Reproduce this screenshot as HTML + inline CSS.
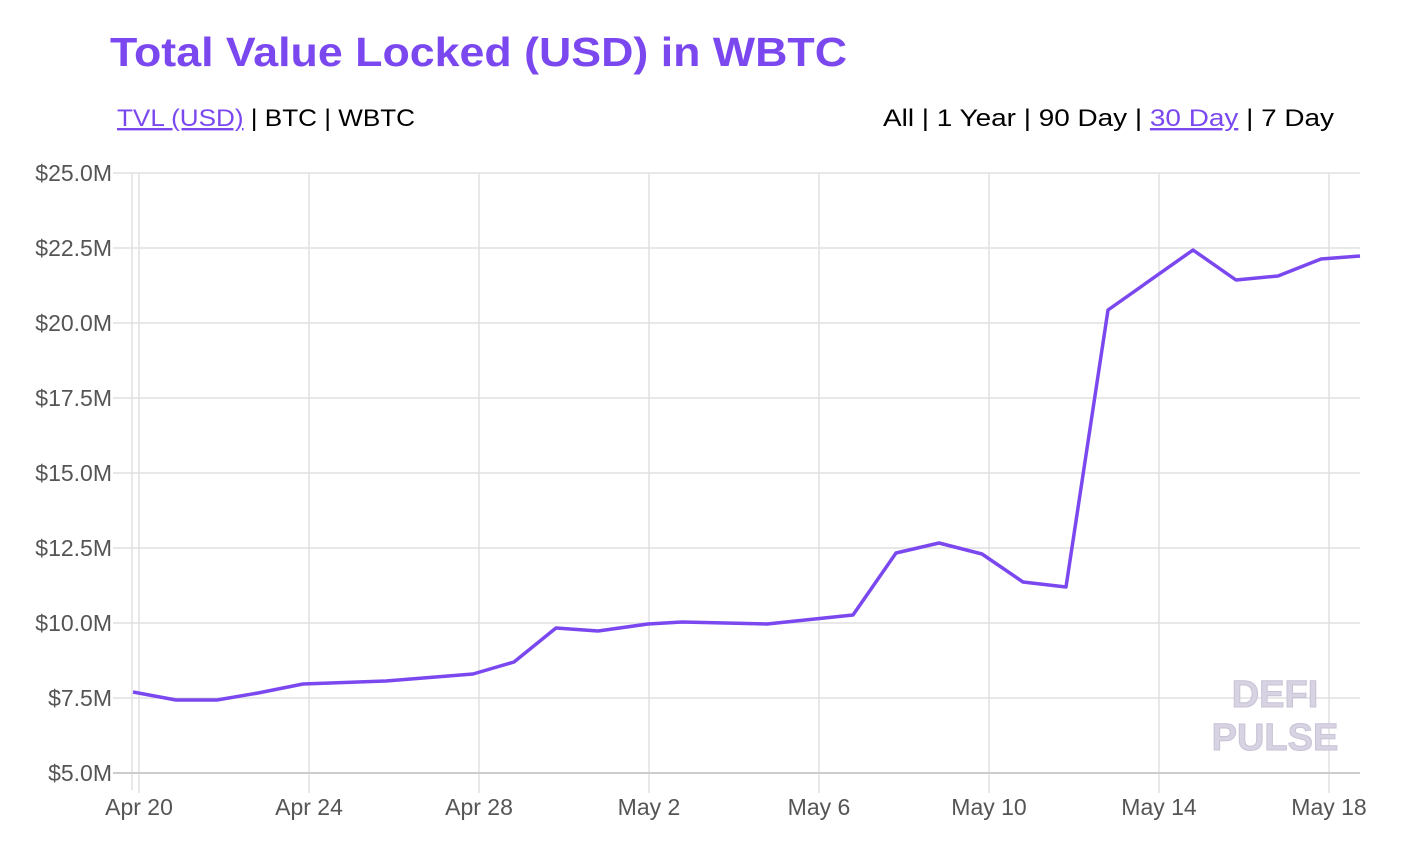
<!DOCTYPE html>
<html><head><style>
body{margin:0;background:#fff;width:1408px;height:858px;overflow:hidden;font-family:"Liberation Sans",sans-serif;}
</style></head><body>
<svg width="1408" height="858" xmlns="http://www.w3.org/2000/svg" font-family="Liberation Sans, sans-serif">
<text x="110" y="66" font-size="41" font-weight="bold" fill="#7b48f0" textLength="737" lengthAdjust="spacingAndGlyphs">Total Value Locked (USD) in WBTC</text>
<text x="117" y="126" font-size="24" fill="#000" textLength="298" lengthAdjust="spacingAndGlyphs"><tspan fill="#7b48f0" text-decoration="underline">TVL (USD)</tspan> | BTC | WBTC</text>
<text x="883" y="126" font-size="24" fill="#000" textLength="451" lengthAdjust="spacingAndGlyphs">All | 1 Year | 90 Day | <tspan fill="#7b48f0" text-decoration="underline">30 Day</tspan> | 7 Day</text>
<g stroke="#e0e0e0" stroke-width="1.5">
<line x1="113" y1="173" x2="1360" y2="173"/><line x1="113" y1="248" x2="1360" y2="248"/>
<line x1="113" y1="323" x2="1360" y2="323"/><line x1="113" y1="398" x2="1360" y2="398"/>
<line x1="113" y1="473" x2="1360" y2="473"/><line x1="113" y1="548" x2="1360" y2="548"/>
<line x1="113" y1="623" x2="1360" y2="623"/><line x1="113" y1="698" x2="1360" y2="698"/>
<line x1="132" y1="173" x2="132" y2="790"/>
<line x1="139" y1="173" x2="139" y2="793"/><line x1="309" y1="173" x2="309" y2="793"/>
<line x1="479" y1="173" x2="479" y2="793"/><line x1="649" y1="173" x2="649" y2="793"/>
<line x1="819" y1="173" x2="819" y2="793"/><line x1="989" y1="173" x2="989" y2="793"/>
<line x1="1159" y1="173" x2="1159" y2="793"/><line x1="1329" y1="173" x2="1329" y2="793"/>
</g>
<line x1="113" y1="773" x2="1360" y2="773" stroke="#ccc" stroke-width="2"/>
<g font-size="23" fill="#555" text-anchor="end">
<text x="112" y="181">$25.0M</text><text x="112" y="256">$22.5M</text><text x="112" y="331">$20.0M</text>
<text x="112" y="406">$17.5M</text><text x="112" y="481">$15.0M</text><text x="112" y="556">$12.5M</text>
<text x="112" y="631">$10.0M</text><text x="112" y="706">$7.5M</text><text x="112" y="781">$5.0M</text>
</g>
<g font-size="23" fill="#555" text-anchor="middle">
<text x="139" y="815">Apr 20</text><text x="309" y="815">Apr 24</text><text x="479" y="815">Apr 28</text>
<text x="649" y="815">May 2</text><text x="819" y="815">May 6</text><text x="989" y="815">May 10</text>
<text x="1159" y="815">May 14</text><text x="1329" y="815">May 18</text>
</g>
<g font-size="38" font-weight="bold" fill="#d8d3e3" text-anchor="middle" stroke="#c8c2d6" stroke-width="1">
<text x="1275" y="707">DEFI</text><text x="1275" y="750">PULSE</text>
</g>
<polyline fill="none" stroke="#7b48f0" stroke-width="3.5" stroke-linejoin="round" points="133,692 176,700 217,700 258,693 303,684 386,681 473,674 514,662 556,628 598,631 648,624 682,622 767,624 853,615 896,553 939,543 982,554 1023,582 1066,587 1108,310 1193,250 1236,280 1278,276 1321,259 1360,256"/>
</svg>
</body></html>
